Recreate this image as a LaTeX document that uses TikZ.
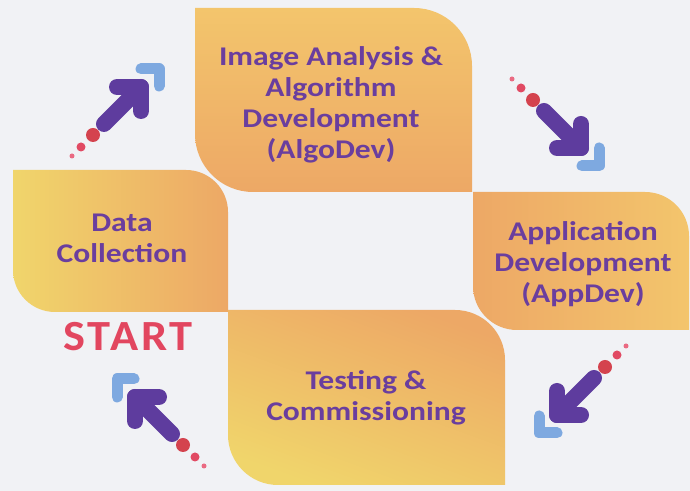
\documentclass[tikz,border=0pt]{standalone}
\usepackage{fontspec}
\setmainfont{Carlito}[FakeStretch=1.17]
\newfontfamily\startfont{Carlito}[FakeStretch=1.08, LetterSpace=7]
\definecolor{bgpaper}{HTML}{F1F2F5}
\definecolor{leafyellow}{HTML}{F0D56B}
\definecolor{leafamber}{HTML}{F3C56C}
\definecolor{leaforange}{HTML}{EDA866}
\definecolor{stagetext}{HTML}{6A3E9E}
\definecolor{starttext}{HTML}{E2465F}
\definecolor{arrowpurple}{HTML}{5E3C9E}
\definecolor{arrowblue}{HTML}{7EA9E0}
\definecolor{dotred}{HTML}{D4434E}
\definecolor{dotmid}{HTML}{E14A63}
\definecolor{dotpink}{HTML}{EA6A82}
\tikzset{
  x=1bp, y=1bp,
  stagelabel/.style={text=stagetext, align=center,
    font=\bfseries\fontsize{27bp}{31bp}\selectfont},
  arrowbody/.style={draw=arrowpurple, line width=16bp, line cap=round, line join=round},
  bracketmark/.style={draw=arrowblue, line width=11bp, line cap=round, line join=round},
  % arrow with trailing dots and a corner bracket, pointing north-east
  cyclearrow/.pic={
    \fill[dotred] (-48,-48) circle (7);
    \fill[dotmid] (-60,-60) circle (4.5);
    \fill[dotpink] (-69,-69) circle (2.5);
    \path[arrowbody] (-37,-37) -- (0,0);
    \path[arrowbody] (-24,0) -- (0,0) -- (0,-24);
    \path[bracketmark] (0,18) -- (18,18) -- (18,1);
  }
}
% leaf-shaped panel with rounded top-right and bottom-left corners
% [shading] {left}{right}{top}{bottom}{radius}
\newcommand{\leafpanel}[6][]{%
  \shade[#1] (#2,#4) -- ({#3-#6},#4) arc[start angle=90, end angle=0, radius=#6]
    -- (#3,#5) -- ({#2+#6},#5) arc[start angle=270, end angle=180, radius=#6] -- cycle;}
\begin{document}
\begin{tikzpicture}
\fill[bgpaper] (0,0) rectangle (690,491);
\useasboundingbox (0,0) rectangle (690,491);

% panels
\leafpanel[top color=leafamber, bottom color=leaforange]{195}{472}{483}{299}{58}
\leafpanel[left color=leafyellow, right color=leaforange]{13}{228}{321}{179}{42}
\leafpanel[left color=leaforange, right color=leafamber]{473}{689}{299}{161}{44}
\leafpanel[top color=leaforange, bottom color=leafyellow, shading angle=-20]{228}{505}{181}{6}{50}

% stage labels
\node[stagelabel] (algodev) at (331,386) {Image Analysis \&\\Algorithm\\Development\\(AlgoDev)};
\node[stagelabel] (datacol) at (122,253) {Data\\Collection};
\node[stagelabel] (appdev) at (583,227) {Application\\Development\\(AppDev)};
\node[stagelabel] (testing) at (366,93) {Testing \&\\Commissioning};
\node[text=starttext, font=\startfont\bfseries\fontsize{43bp}{48bp}\selectfont] (start) at (128,154) {START};

% cycle arrows between the stages
\pic at (141,404) {cyclearrow};
\pic[rotate=-90] at (581,343) {cyclearrow};
\pic[rotate=180] at (557,76) {cyclearrow};
\pic[rotate=90] at (135,94) {cyclearrow};
\end{tikzpicture}
\end{document}
